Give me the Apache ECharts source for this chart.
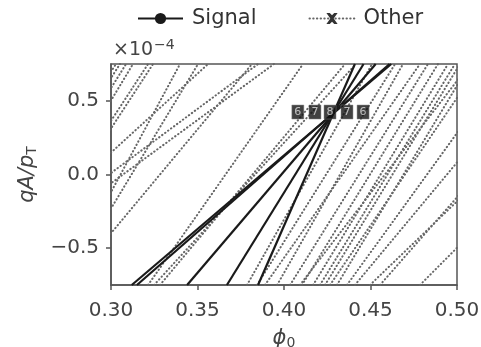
<!DOCTYPE html>
<html><head><meta charset="utf-8">
<script src="https://cdn.jsdelivr.net/npm/echarts@6/dist/echarts.min.js"></script>
<style>html,body{margin:0;padding:0;background:#fff}#c{width:481px;height:347px}</style>
</head><body><div id="c"></div>
<script>
// axis ticks
const xTicks = [0.30, 0.35, 0.40, 0.45, 0.50];
const yTicks = [-0.5, 0.0, 0.5];
// each line is given by its phi0 at qA/pT = -0.75 (bottom) and +0.75 (top)
const yEdges = [-0.75, 0.75];
const signalBottom = [0.312, 0.315, 0.344, 0.367, 0.385];
const signalTop    = [0.462, 0.461, 0.453, 0.446, 0.441];
const otherBottom = [0.2185, 0.2231, 0.2289, 0.2358, 0.2382, 0.2410, 0.2711, 0.2734, 0.2162, 0.2751, 0.2127, 0.2197, 0.3214, 0.3249, 0.3283,
                     0.3786, 0.3844, 0.3960, 0.4035, 0.4104, 0.4168, 0.4208, 0.4266, 0.4306, 0.4364, 0.4410, 0.4555, 0.4786, 0.4092, 0.4237, 0.3890, 0.4497];
const otherTop    = [0.3029, 0.3052, 0.3087, 0.3127, 0.3214, 0.3243, 0.3399, 0.3503, 0.3561, 0.3815, 0.3850, 0.3942, 0.4110, 0.4416, 0.4353,
                     0.4509, 0.4642, 0.4688, 0.4832, 0.4890, 0.4948, 0.4988, 0.5133, 0.5075, 0.5289, 0.5474, 0.5676, 0.6058, 0.5075, 0.5017, 0.4786, 0.5827];
// bin counts
const binPhi = [0.408, 0.4179, 0.4266, 0.4364, 0.4457];
const binQ = 0.424;
const binCounts = [6, 7, 8, 7, 6];

const FONT = 'DejaVu Sans';
const crossPath = 'path://M0,0 L3,0 L5,2 L7,0 L10,0 L6.5,5 L10,10 L7,10 L5,8 L3,10 L0,10 L3.5,5 Z';

const series = [];
signalBottom.forEach((b, i) => {
  series.push({
    name: 'Signal', type: 'line', clip: true, silent: true,
    data: [[b, yEdges[0]], [signalTop[i], yEdges[1]]],
    symbol: 'circle', symbolSize: 13, showSymbol: false,
    itemStyle: {color: '#1a1a1a'},
    lineStyle: {color: '#1a1a1a', width: 2.2},
    z: 5
  });
});
otherBottom.forEach((b, i) => {
  series.push({
    name: 'Other', type: 'line', clip: true, silent: true,
    data: [[b, yEdges[0]], [otherTop[i], yEdges[1]]],
    symbol: crossPath, symbolSize: 10, showSymbol: false,
    itemStyle: {color: '#333'},
    lineStyle: {color: '#666', width: 2, type: [0.4, 3.3], cap: 'round'},
    z: 3
  });
});
series.push({
  name: 'bins', type: 'scatter', silent: true,
  data: binPhi.map((p, i) => [p, binQ, binCounts[i]]),
  symbol: 'rect', symbolSize: [12, 14],
  itemStyle: {color: '#111', borderColor: '#888', borderWidth: 0.6},
  label: {show: true, position: 'inside', formatter: p => String(p.value[2]), color: '#e0e0e0', fontSize: 11, fontFamily: FONT},
  z: 10
});

const fmtY = v => (v < 0 ? '\u2212' : '') + Math.abs(v).toFixed(1);

const chart = echarts.init(document.getElementById('c'), null, {renderer: 'canvas'});
chart.setOption({
  animation: false,
  backgroundColor: '#fff',
  legend: {
    data: ['Signal', 'Other'], top: 3, left: 132,
    itemWidth: 45, itemHeight: 14, itemGap: 52,
    textStyle: {fontSize: 21, fontFamily: FONT, color: '#333', padding: [0, 0, 0, 4]}
  },
  grid: {left: 111, top: 64, width: 346, height: 221, show: true, borderColor: '#555', borderWidth: 1.5, containLabel: false, outerBoundsMode: 'none'},
  xAxis: {
    type: 'value', min: 0.30, max: 0.50, interval: 0.05,
    name: '{i|\u03D5}{s|0}', nameLocation: 'middle', nameGap: 43,
    nameTextStyle: {rich: {i: {fontSize: 21, fontStyle: 'italic', fontFamily: FONT, color: '#444'}, s: {fontSize: 14, fontFamily: FONT, color: '#444', verticalAlign: 'bottom', padding: [8, 0, 0, 0]}}},
    axisLine: {show: true, onZero: false, lineStyle: {color: '#555', width: 1.5}},
    axisTick: {show: true, length: 5, lineStyle: {color: '#555', width: 1.5}},
    axisLabel: {fontSize: 20, fontFamily: FONT, color: '#444', margin: 16, formatter: v => v.toFixed(2)},
    splitLine: {show: false}
  },
  yAxis: {
    type: 'value', min: -0.75, max: 0.75,
    name: '{i|qA/p}{s|T}', nameLocation: 'middle', nameGap: 72, nameRotate: 90,
    nameTextStyle: {rich: {i: {fontSize: 21, fontStyle: 'italic', fontFamily: FONT, color: '#444'}, s: {fontSize: 14, fontFamily: FONT, color: '#444', verticalAlign: 'bottom', padding: [8, 0, 0, 0]}}},
    axisLine: {show: true, onZero: false, lineStyle: {color: '#555', width: 1.5}},
    axisTick: {show: true, length: 5, customValues: yTicks, lineStyle: {color: '#555', width: 1.5}},
    axisLabel: {fontSize: 20, fontFamily: FONT, color: '#444', margin: 12, customValues: yTicks, formatter: fmtY},
    splitLine: {show: false}
  },
  graphic: [{
    type: 'text', left: 113, top: 38, silent: true,
    style: {text: '{a|\u00D710}{b|\u22124}', rich: {a: {fontSize: 19, fontFamily: FONT, fill: '#444'}, b: {fontSize: 14, fontFamily: FONT, fill: '#444', verticalAlign: 'top', padding: [0, 0, 10, 1]}}}
  }],
  series: series
});
</script>
</body></html>
